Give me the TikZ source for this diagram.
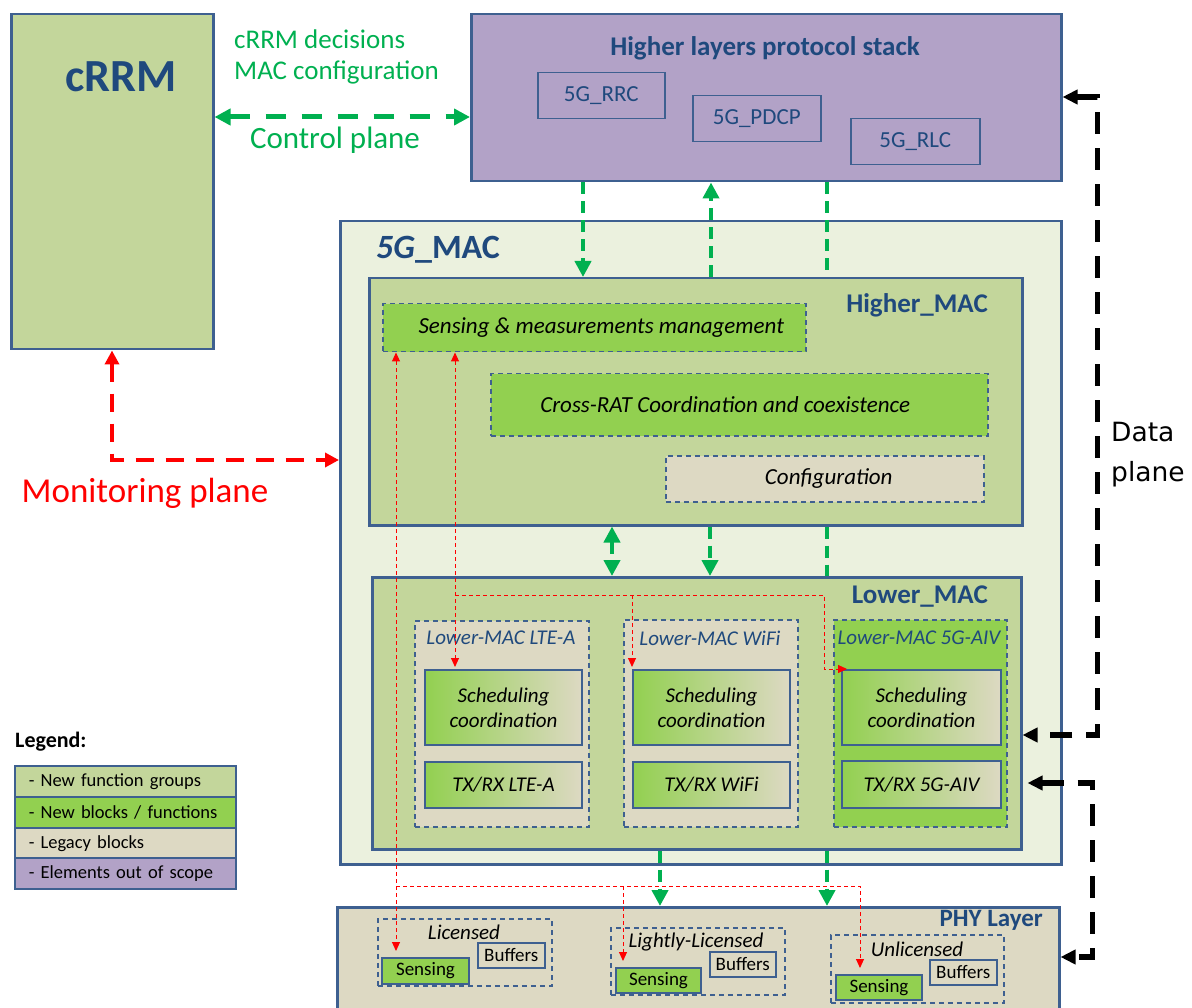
\documentclass[tikz,border=0pt]{standalone}
\usepackage{fontspec}
\setmainfont{Carlito}
\newfontfamily\dejavu{DejaVu Sans}
\usetikzlibrary{arrows.meta}
\definecolor{bordb}{HTML}{3E6090}
\definecolor{titleb}{HTML}{1F497D}
\definecolor{lgreen}{HTML}{C3D69B}
\definecolor{pgreen}{HTML}{EBF1DE}
\definecolor{bgreen}{HTML}{92D050}
\definecolor{beige}{HTML}{DDD9C3}
\definecolor{purp}{HTML}{B2A2C7}
\definecolor{agreen}{HTML}{00B050}
\definecolor{ared}{HTML}{FF0000}
\newcommand\fsz[2]{\fontsize{#1}{#2}\selectfont}
\newcommand\bx[7][]{\node[box,#1,minimum width={(#4)-(#2)},minimum height={(#5)-(#3)}] (#6) at (#2,#3) {#7};}
\tikzset{
  box/.style={anchor=north west, inner sep=0pt, align=center},
  grp/.style={draw=bordb, line width=2.5pt},
  subb/.style={draw=bordb, line width=1.5pt, text=titleb, font=\fsz{23}{27}},
  dbox/.style={draw=bordb, line width=1.5pt, dash pattern=on 5pt off 4pt, font=\itshape\fsz{23}{27}},
  sched/.style={draw=bordb, line width=2pt, left color=bgreen, right color=beige, font=\itshape\fsz{21}{25}},
  phyg/.style={draw=bordb, line width=1.5pt, dash pattern=on 5pt off 4pt},
  buf/.style={draw=bordb, line width=1.5pt, fill=beige, font=\fsz{19}{22}},
  sens/.style={draw=bordb, line width=2pt, fill=bgreen, font=\fsz{19}{22}},
  bigt/.style={text=titleb, font=\bfseries\fsz{27}{32}},
  lmt/.style={text=titleb, font=\itshape\fsz{21}{25}, inner sep=0pt},
  pht/.style={font=\itshape\fsz{21}{25}, inner sep=0pt},
  legrow/.style={draw=bordb, line width=1.5pt, anchor=north west, inner xsep=14pt, inner ysep=0pt,
     text width=193pt, minimum height=31pt, align=left, font=\fsz{18.5}{21}},
  gtp/.tip={Triangle[length=16pt,width=16pt]},
  rtp/.tip={Triangle[length=14pt,width=14pt]},
  ktp/.tip={Triangle[length=15pt,width=14pt]},
  stp/.tip={Triangle[length=9pt,width=8pt]},
  garh/.style={draw=agreen, line width=5pt, dash pattern=on 20pt off 16pt},
  garv/.style={draw=agreen, line width=4.5pt, dash pattern=on 12pt off 7pt},
  rarr/.style={draw=ared, line width=4pt, dash pattern=on 18pt off 12pt},
  karr/.style={draw=black, line width=5.5pt, dash pattern=on 22pt off 14pt},
  rthin/.style={draw=ared, line width=1pt, dash pattern=on 4pt off 3pt},
}
\begin{document}
\begin{tikzpicture}[x=1pt,y=-1pt]
\useasboundingbox (0,0) rectangle (1192,1008);
% cRRM
\bx[grp,fill=lgreen]{10}{13}{212}{348}{crrm}{}
\node[text=titleb, font=\bfseries\fsz{46}{50}] (tcrrm) at (121,77) {cRRM};
% Higher layers
\bx[grp,fill=purp]{470}{13}{1060}{180}{hl}{}
\node[text=titleb, font=\bfseries\fsz{27}{30}] (thl) at (765,48) {Higher layers protocol stack};
\bx[subb,fill=purp]{537}{72}{664}{118}{rrc}{5G\_RRC}
\bx[subb,fill=purp]{692}{95}{820}{141}{pdcp}{5G\_PDCP}
\bx[subb,fill=purp]{850}{118}{979}{164}{rlc}{5G\_RLC}
% control plane texts
\node[anchor=west, align=left, text=agreen, font=\fsz{27}{31}, inner sep=0pt] (tcd) at (234,57) {cRRM decisions\\MAC configuration};
\node[text=agreen, font=\fsz{31}{34}] (tcp) at (335,140) {Control plane};
% 5G MAC
\bx[grp,fill=pgreen]{339}{220}{1060}{863}{mac}{}
\node[anchor=west, text=titleb, font=\bfseries\fsz{34}{40}, inner sep=0pt] (tmac) at (376,250) {\textit{5G}\_MAC};
% Higher MAC
\bx[grp,fill=lgreen]{368}{277}{1021}{524}{hmac}{}
\node[anchor=east, bigt, inner sep=0pt] (thmac) at (988,305) {Higher\_MAC};
\bx[dbox,fill=bgreen]{382}{303}{805}{351}{smm}{\hspace*{14pt}Sensing \& measurements management}
\bx[dbox,fill=bgreen]{490}{373}{987}{435}{crat}{Cross-RAT Coordination and coexistence\hspace*{28pt}}
\bx[dbox,fill=beige]{665}{455}{983}{501}{conf}{\hspace*{8pt}Configuration}
% Lower MAC
\bx[grp,fill=lgreen]{371}{576}{1020}{848}{lmac}{}
\node[anchor=east, bigt, inner sep=0pt] (tlmac) at (988,597) {Lower\_MAC};
\bx[dbox,fill=beige]{414}{620}{588}{826}{lteg}{}
\node[lmt] (tlte) at (501,638) {Lower-MAC LTE-A};
\bx[sched]{424}{669}{581}{744}{ltes}{Scheduling\\coordination}
\bx[sched]{424}{761}{581}{807}{ltet}{TX/RX LTE-A}
\bx[dbox,fill=beige]{623}{619}{797}{826}{wifig}{}
\node[lmt] (twifi) at (710,638) {Lower-MAC WiFi};
\bx[sched]{632}{669}{789}{744}{wifis}{Scheduling\\coordination}
\bx[sched]{632}{761}{789}{807}{wifit}{TX/RX WiFi}
\bx[dbox,fill=bgreen]{833}{619}{1006}{826}{aivg}{}
\node[lmt] (taiv) at (919,638) {Lower-MAC 5G-AIV};
\bx[sched]{841}{669}{1000}{744}{aivs}{Scheduling\\coordination}
\bx[sched]{841}{760}{1000}{807}{aivt}{TX/RX 5G-AIV}
% PHY
\bx[grp,fill=beige]{336}{906}{1058}{1030}{phy}{}
\node[anchor=east, text=titleb, font=\bfseries\fsz{25}{30}, inner sep=0pt] (tphy) at (1043,920) {PHY Layer};
\bx[phyg]{377}{918}{551}{985}{licg}{}
\node[pht] (tlic) at (464,932) {Licensed};
\bx[buf]{477}{942}{544}{967}{licb}{Buffers}
\bx[sens]{381}{957}{468}{983}{lics}{Sensing}
\bx[phyg]{610}{927}{784}{994}{llg}{}
\node[pht] (tll) at (696,942) {Lightly-Licensed};
\bx[buf]{709}{951}{775}{976}{llb}{Buffers}
\bx[sens]{615}{967}{700}{992}{lls}{Sensing}
\bx[phyg]{830}{934}{1003}{1002}{ulg}{}
\node[pht] (tul) at (917,949) {Unlicensed};
\bx[buf]{929}{959}{996}{984}{ulb}{Buffers}
\bx[sens]{835}{974}{921}{999}{uls}{Sensing}
% Legend
\node[anchor=west, font=\bfseries\fsz{22}{26}, inner sep=0pt] (tleg) at (15,742) {Legend:};
\node[legrow, fill=lgreen] (leg1) at (14,765) {- New function groups};
\node[legrow, fill=bgreen] (leg2) at (14,796) {- New blocks / functions};
\node[legrow, fill=beige] (leg3) at (14,827) {- Legacy blocks};
\node[legrow, fill=purp] (leg4) at (14,857) {- Elements out of scope};
% Control plane arrow
\draw[garh, gtp-gtp] ([yshift=-104pt]crrm.north east) -- ([yshift=-104pt]hl.north west);
% green verticals
\coordinate (g1) at ([xshift=113pt]hl.south west);
\coordinate (g2) at ([xshift=241pt]hl.south west);
\coordinate (g3) at ([xshift=357pt]hl.south west);
\draw[garv, -gtp] (g1) -- (g1 |- hmac.north);
\draw[garv, -gtp] (g2 |- hmac.north) -- (g2);
\draw[garv] (g3) -- (g3 |- hmac.north);
\coordinate (g4) at ([xshift=244pt]hmac.south west);
\coordinate (g5) at ([xshift=342pt]hmac.south west);
\coordinate (g6) at ([xshift=459pt]hmac.south west);
\draw[garv, gtp-gtp] (g4) -- (g4 |- lmac.north);
\draw[garv, -gtp] (g5) -- (g5 |- lmac.north);
\draw[garv] (g6) -- (g6 |- lmac.north);
\coordinate (g7) at ([xshift=289pt]lmac.south west);
\coordinate (g8) at ([xshift=456pt]lmac.south west);
\draw[garv, -gtp] (g7) -- (g7 |- phy.north);
\draw[garv, -gtp] (g8) -- (g8 |- phy.north);
% Monitoring plane
\coordinate (mA) at ([xshift=102pt]crrm.south west);
\coordinate (mB) at ([yshift=-240pt]mac.north west);
\draw[rarr, rtp-rtp] (mA) |- (mB);
\node[text=ared, font=\fsz{35}{40}] (tmon) at (145,493) {Monitoring plane};
% Data plane
\coordinate (dA) at ([yshift=-84pt]hl.north east);
\coordinate (dB) at ([yshift=-159pt]lmac.north east);
\coordinate (dC) at ([yshift=-207pt]lmac.north east);
\coordinate (dD) at ([yshift=-51pt]phy.north east);
\draw[karr, ktp-ktp] (dA) -- ++(35,0) |- (dB);
\draw[karr, ktp-ktp, shorten <=5pt] (dC) -- ++(70,0) |- (dD);
\node[anchor=west, align=left, font=\dejavu\fsz{26.5}{40}, inner sep=0pt] (tdata) at (1111,455) {Data\\plane};
% Red thin sensing lines
\coordinate (r1) at ([xshift=14pt]smm.south west);
\coordinate (r1b) at (r1 |- lics.north);
\coordinate (hy) at (0,886);
\coordinate (l1) at ([xshift=8pt]lls.north west);
\coordinate (u1) at ([xshift=25pt]uls.north west);
\draw[rthin, stp-stp] (r1) -- ([yshift=6pt]r1b);
\draw[rthin, -stp] (r1 |- hy) -| ([yshift=6pt]u1);
\draw[rthin, -stp] (l1 |- hy) -- ([yshift=6pt]l1);
\coordinate (r2) at ([xshift=73pt]smm.south west);
\coordinate (r2b) at (r2 |- ltes.north);
\coordinate (hy2) at (0,595);
\draw[rthin, stp-stp] (r2) -- ([yshift=2pt]r2b);
\draw[rthin, -stp] (r2 |- hy2) -| ([xshift=-17pt]aivs.north west) -- ([xshift=6pt]aivs.north west);
\draw[rthin, -stp] (wifis.north west |- hy2) -- ([yshift=2pt]wifis.north west);
\end{tikzpicture}
\end{document}
